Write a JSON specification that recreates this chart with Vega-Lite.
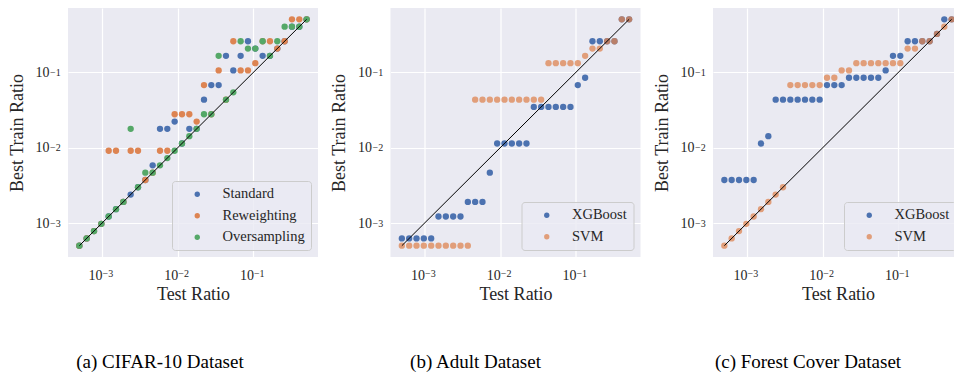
{
  "$schema": "https://vega.github.io/schema/vega-lite/v6.json",
  "background": "white",
  "padding": {"left": 8, "top": 8, "right": 0, "bottom": 0},
  "bounds": "flush",
  "spacing": 72.5,
  "config": {
    "font": "Liberation Serif",
    "view": {"fill": "#EAEAF2", "stroke": null},
    "axis": {
      "domain": false, "ticks": false, "tickSize": 0, "grid": true, "gridColor": "white", "gridWidth": 1.2,
      "labelFont": "Liberation Serif", "labelFontSize": 14, "labelColor": "#262626", "labelFlush": false,
      "titleFont": "Liberation Serif", "titleFontSize": 18, "titleFontWeight": "normal", "titleColor": "#262626"
    },
    "axisX": {"labelPadding": 11, "titlePadding": 3},
    "axisY": {"titlePadding": 9},
    "legend": {
      "orient": "bottom-right", "offset": 7, "title": null,
      "fillColor": "rgba(234,234,242,0.8)", "strokeColor": "#cccccc", "cornerRadius": 3,
      "padding": 6, "labelFont": "Liberation Serif", "labelFontSize": 14.5, "labelColor": "#262626",
      "symbolType": "circle", "symbolSize": 28, "symbolStrokeWidth": 0, "symbolOffset": 12,
      "labelOffset": 18, "rowPadding": 6.5
    },
    "title": {"orient": "bottom", "anchor": "middle", "frame": "group", "fontSize": 19, "fontWeight": "normal", "color": "black", "offset": 50}
  },
  "datasets": {
    "diag": [{"test": 0.0005, "train": 0.0005}, {"test": 0.504871, "train": 0.504871}],
    "cifar": [
      {"method": "Standard", "test": 0.0005, "train": 0.0005},
      {"method": "Standard", "test": 0.000625, "train": 0.000625},
      {"method": "Standard", "test": 0.00078125, "train": 0.00078125},
      {"method": "Standard", "test": 0.000976563, "train": 0.000976563},
      {"method": "Standard", "test": 0.0012207, "train": 0.0012207},
      {"method": "Standard", "test": 0.00152588, "train": 0.00152588},
      {"method": "Standard", "test": 0.00190735, "train": 0.00190735},
      {"method": "Standard", "test": 0.00238419, "train": 0.00238419},
      {"method": "Standard", "test": 0.00298023, "train": 0.00298023},
      {"method": "Standard", "test": 0.00372529, "train": 0.00372529},
      {"method": "Standard", "test": 0.00465661, "train": 0.00582077},
      {"method": "Standard", "test": 0.00582077, "train": 0.0177636},
      {"method": "Standard", "test": 0.00727596, "train": 0.0177636},
      {"method": "Standard", "test": 0.00909495, "train": 0.0222045},
      {"method": "Standard", "test": 0.0113687, "train": 0.0113687},
      {"method": "Standard", "test": 0.0142109, "train": 0.0177636},
      {"method": "Standard", "test": 0.0177636, "train": 0.0177636},
      {"method": "Standard", "test": 0.0222045, "train": 0.0433681},
      {"method": "Standard", "test": 0.0277556, "train": 0.0677626},
      {"method": "Standard", "test": 0.0346945, "train": 0.0677626},
      {"method": "Standard", "test": 0.0433681, "train": 0.165436},
      {"method": "Standard", "test": 0.0542101, "train": 0.105879},
      {"method": "Standard", "test": 0.0677626, "train": 0.165436},
      {"method": "Standard", "test": 0.0847033, "train": 0.258494},
      {"method": "Standard", "test": 0.105879, "train": 0.206795},
      {"method": "Standard", "test": 0.132349, "train": 0.165436},
      {"method": "Standard", "test": 0.165436, "train": 0.165436},
      {"method": "Standard", "test": 0.206795, "train": 0.206795},
      {"method": "Standard", "test": 0.258494, "train": 0.258494},
      {"method": "Standard", "test": 0.323117, "train": 0.403897},
      {"method": "Standard", "test": 0.403897, "train": 0.403897},
      {"method": "Standard", "test": 0.504871, "train": 0.504871},
      {"method": "Reweighting", "test": 0.0005, "train": 0.0005},
      {"method": "Reweighting", "test": 0.000625, "train": 0.000625},
      {"method": "Reweighting", "test": 0.00078125, "train": 0.00078125},
      {"method": "Reweighting", "test": 0.000976563, "train": 0.000976563},
      {"method": "Reweighting", "test": 0.0012207, "train": 0.00909495},
      {"method": "Reweighting", "test": 0.00152588, "train": 0.00909495},
      {"method": "Reweighting", "test": 0.00190735, "train": 0.00190735},
      {"method": "Reweighting", "test": 0.00238419, "train": 0.00909495},
      {"method": "Reweighting", "test": 0.00298023, "train": 0.00909495},
      {"method": "Reweighting", "test": 0.00372529, "train": 0.00372529},
      {"method": "Reweighting", "test": 0.00465661, "train": 0.00465661},
      {"method": "Reweighting", "test": 0.00582077, "train": 0.00909495},
      {"method": "Reweighting", "test": 0.00727596, "train": 0.00909495},
      {"method": "Reweighting", "test": 0.00909495, "train": 0.0277556},
      {"method": "Reweighting", "test": 0.0113687, "train": 0.0277556},
      {"method": "Reweighting", "test": 0.0142109, "train": 0.0277556},
      {"method": "Reweighting", "test": 0.0177636, "train": 0.0222045},
      {"method": "Reweighting", "test": 0.0222045, "train": 0.0677626},
      {"method": "Reweighting", "test": 0.0277556, "train": 0.0277556},
      {"method": "Reweighting", "test": 0.0346945, "train": 0.105879},
      {"method": "Reweighting", "test": 0.0433681, "train": 0.0433681},
      {"method": "Reweighting", "test": 0.0542101, "train": 0.258494},
      {"method": "Reweighting", "test": 0.0677626, "train": 0.105879},
      {"method": "Reweighting", "test": 0.0847033, "train": 0.105879},
      {"method": "Reweighting", "test": 0.105879, "train": 0.132349},
      {"method": "Reweighting", "test": 0.132349, "train": 0.258494},
      {"method": "Reweighting", "test": 0.165436, "train": 0.258494},
      {"method": "Reweighting", "test": 0.206795, "train": 0.206795},
      {"method": "Reweighting", "test": 0.258494, "train": 0.258494},
      {"method": "Reweighting", "test": 0.323117, "train": 0.504871},
      {"method": "Reweighting", "test": 0.403897, "train": 0.504871},
      {"method": "Reweighting", "test": 0.504871, "train": 0.504871},
      {"method": "Oversampling", "test": 0.0005, "train": 0.0005},
      {"method": "Oversampling", "test": 0.000625, "train": 0.000625},
      {"method": "Oversampling", "test": 0.00078125, "train": 0.00078125},
      {"method": "Oversampling", "test": 0.000976563, "train": 0.000976563},
      {"method": "Oversampling", "test": 0.0012207, "train": 0.0012207},
      {"method": "Oversampling", "test": 0.00152588, "train": 0.00152588},
      {"method": "Oversampling", "test": 0.00190735, "train": 0.00190735},
      {"method": "Oversampling", "test": 0.00238419, "train": 0.0177636},
      {"method": "Oversampling", "test": 0.00298023, "train": 0.00298023},
      {"method": "Oversampling", "test": 0.00372529, "train": 0.00465661},
      {"method": "Oversampling", "test": 0.00465661, "train": 0.00465661},
      {"method": "Oversampling", "test": 0.00582077, "train": 0.00582077},
      {"method": "Oversampling", "test": 0.00727596, "train": 0.00727596},
      {"method": "Oversampling", "test": 0.00909495, "train": 0.00909495},
      {"method": "Oversampling", "test": 0.0113687, "train": 0.0113687},
      {"method": "Oversampling", "test": 0.0142109, "train": 0.0142109},
      {"method": "Oversampling", "test": 0.0177636, "train": 0.0177636},
      {"method": "Oversampling", "test": 0.0222045, "train": 0.0277556},
      {"method": "Oversampling", "test": 0.0277556, "train": 0.0277556},
      {"method": "Oversampling", "test": 0.0346945, "train": 0.165436},
      {"method": "Oversampling", "test": 0.0433681, "train": 0.0433681},
      {"method": "Oversampling", "test": 0.0542101, "train": 0.0542101},
      {"method": "Oversampling", "test": 0.0677626, "train": 0.258494},
      {"method": "Oversampling", "test": 0.0847033, "train": 0.206795},
      {"method": "Oversampling", "test": 0.105879, "train": 0.206795},
      {"method": "Oversampling", "test": 0.132349, "train": 0.258494},
      {"method": "Oversampling", "test": 0.165436, "train": 0.165436},
      {"method": "Oversampling", "test": 0.206795, "train": 0.258494},
      {"method": "Oversampling", "test": 0.258494, "train": 0.403897},
      {"method": "Oversampling", "test": 0.323117, "train": 0.403897},
      {"method": "Oversampling", "test": 0.403897, "train": 0.403897},
      {"method": "Oversampling", "test": 0.504871, "train": 0.504871}
    ],
    "adult": [
      {"method": "XGBoost", "test": 0.0005, "train": 0.000625},
      {"method": "XGBoost", "test": 0.000625, "train": 0.000625},
      {"method": "XGBoost", "test": 0.00078125, "train": 0.000625},
      {"method": "XGBoost", "test": 0.000976563, "train": 0.000625},
      {"method": "XGBoost", "test": 0.0012207, "train": 0.000625},
      {"method": "XGBoost", "test": 0.00152588, "train": 0.0012207},
      {"method": "XGBoost", "test": 0.00190735, "train": 0.0012207},
      {"method": "XGBoost", "test": 0.00238419, "train": 0.0012207},
      {"method": "XGBoost", "test": 0.00298023, "train": 0.0012207},
      {"method": "XGBoost", "test": 0.00372529, "train": 0.00190735},
      {"method": "XGBoost", "test": 0.00465661, "train": 0.00190735},
      {"method": "XGBoost", "test": 0.00582077, "train": 0.00190735},
      {"method": "XGBoost", "test": 0.00727596, "train": 0.00465661},
      {"method": "XGBoost", "test": 0.00909495, "train": 0.0113687},
      {"method": "XGBoost", "test": 0.0113687, "train": 0.0113687},
      {"method": "XGBoost", "test": 0.0142109, "train": 0.0113687},
      {"method": "XGBoost", "test": 0.0177636, "train": 0.0113687},
      {"method": "XGBoost", "test": 0.0222045, "train": 0.0113687},
      {"method": "XGBoost", "test": 0.0277556, "train": 0.0346945},
      {"method": "XGBoost", "test": 0.0346945, "train": 0.0346945},
      {"method": "XGBoost", "test": 0.0433681, "train": 0.0346945},
      {"method": "XGBoost", "test": 0.0542101, "train": 0.0346945},
      {"method": "XGBoost", "test": 0.0677626, "train": 0.0346945},
      {"method": "XGBoost", "test": 0.0847033, "train": 0.0346945},
      {"method": "XGBoost", "test": 0.105879, "train": 0.0677626},
      {"method": "XGBoost", "test": 0.132349, "train": 0.0847033},
      {"method": "XGBoost", "test": 0.165436, "train": 0.258494},
      {"method": "XGBoost", "test": 0.206795, "train": 0.258494},
      {"method": "XGBoost", "test": 0.258494, "train": 0.258494},
      {"method": "XGBoost", "test": 0.323117, "train": 0.258494},
      {"method": "XGBoost", "test": 0.403897, "train": 0.504871},
      {"method": "XGBoost", "test": 0.504871, "train": 0.504871},
      {"method": "SVM", "test": 0.0005, "train": 0.0005},
      {"method": "SVM", "test": 0.000625, "train": 0.0005},
      {"method": "SVM", "test": 0.00078125, "train": 0.0005},
      {"method": "SVM", "test": 0.000976563, "train": 0.0005},
      {"method": "SVM", "test": 0.0012207, "train": 0.0005},
      {"method": "SVM", "test": 0.00152588, "train": 0.0005},
      {"method": "SVM", "test": 0.00190735, "train": 0.0005},
      {"method": "SVM", "test": 0.00238419, "train": 0.0005},
      {"method": "SVM", "test": 0.00298023, "train": 0.0005},
      {"method": "SVM", "test": 0.00372529, "train": 0.0005},
      {"method": "SVM", "test": 0.00465661, "train": 0.0433681},
      {"method": "SVM", "test": 0.00582077, "train": 0.0433681},
      {"method": "SVM", "test": 0.00727596, "train": 0.0433681},
      {"method": "SVM", "test": 0.00909495, "train": 0.0433681},
      {"method": "SVM", "test": 0.0113687, "train": 0.0433681},
      {"method": "SVM", "test": 0.0142109, "train": 0.0433681},
      {"method": "SVM", "test": 0.0177636, "train": 0.0433681},
      {"method": "SVM", "test": 0.0222045, "train": 0.0433681},
      {"method": "SVM", "test": 0.0277556, "train": 0.0433681},
      {"method": "SVM", "test": 0.0346945, "train": 0.0433681},
      {"method": "SVM", "test": 0.0433681, "train": 0.132349},
      {"method": "SVM", "test": 0.0542101, "train": 0.132349},
      {"method": "SVM", "test": 0.0677626, "train": 0.132349},
      {"method": "SVM", "test": 0.0847033, "train": 0.132349},
      {"method": "SVM", "test": 0.105879, "train": 0.132349},
      {"method": "SVM", "test": 0.132349, "train": 0.165436},
      {"method": "SVM", "test": 0.165436, "train": 0.206795},
      {"method": "SVM", "test": 0.206795, "train": 0.206795},
      {"method": "SVM", "test": 0.258494, "train": 0.258494},
      {"method": "SVM", "test": 0.323117, "train": 0.258494},
      {"method": "SVM", "test": 0.403897, "train": 0.504871},
      {"method": "SVM", "test": 0.504871, "train": 0.504871}
    ],
    "forest": [
      {"method": "XGBoost", "test": 0.0005, "train": 0.00372529},
      {"method": "XGBoost", "test": 0.000625, "train": 0.00372529},
      {"method": "XGBoost", "test": 0.00078125, "train": 0.00372529},
      {"method": "XGBoost", "test": 0.000976563, "train": 0.00372529},
      {"method": "XGBoost", "test": 0.0012207, "train": 0.00372529},
      {"method": "XGBoost", "test": 0.00152588, "train": 0.0113687},
      {"method": "XGBoost", "test": 0.00190735, "train": 0.0142109},
      {"method": "XGBoost", "test": 0.00238419, "train": 0.0433681},
      {"method": "XGBoost", "test": 0.00298023, "train": 0.0433681},
      {"method": "XGBoost", "test": 0.00372529, "train": 0.0433681},
      {"method": "XGBoost", "test": 0.00465661, "train": 0.0433681},
      {"method": "XGBoost", "test": 0.00582077, "train": 0.0433681},
      {"method": "XGBoost", "test": 0.00727596, "train": 0.0433681},
      {"method": "XGBoost", "test": 0.00909495, "train": 0.0433681},
      {"method": "XGBoost", "test": 0.0113687, "train": 0.0677626},
      {"method": "XGBoost", "test": 0.0142109, "train": 0.0677626},
      {"method": "XGBoost", "test": 0.0177636, "train": 0.0677626},
      {"method": "XGBoost", "test": 0.0222045, "train": 0.0847033},
      {"method": "XGBoost", "test": 0.0277556, "train": 0.0847033},
      {"method": "XGBoost", "test": 0.0346945, "train": 0.0847033},
      {"method": "XGBoost", "test": 0.0433681, "train": 0.0847033},
      {"method": "XGBoost", "test": 0.0542101, "train": 0.0847033},
      {"method": "XGBoost", "test": 0.0677626, "train": 0.105879},
      {"method": "XGBoost", "test": 0.0847033, "train": 0.165436},
      {"method": "XGBoost", "test": 0.105879, "train": 0.165436},
      {"method": "XGBoost", "test": 0.132349, "train": 0.258494},
      {"method": "XGBoost", "test": 0.165436, "train": 0.258494},
      {"method": "XGBoost", "test": 0.206795, "train": 0.258494},
      {"method": "XGBoost", "test": 0.258494, "train": 0.258494},
      {"method": "XGBoost", "test": 0.323117, "train": 0.323117},
      {"method": "XGBoost", "test": 0.403897, "train": 0.504871},
      {"method": "XGBoost", "test": 0.504871, "train": 0.504871},
      {"method": "SVM", "test": 0.0005, "train": 0.0005},
      {"method": "SVM", "test": 0.000625, "train": 0.000625},
      {"method": "SVM", "test": 0.00078125, "train": 0.00078125},
      {"method": "SVM", "test": 0.000976563, "train": 0.000976563},
      {"method": "SVM", "test": 0.0012207, "train": 0.0012207},
      {"method": "SVM", "test": 0.00152588, "train": 0.00152588},
      {"method": "SVM", "test": 0.00190735, "train": 0.00190735},
      {"method": "SVM", "test": 0.00238419, "train": 0.00238419},
      {"method": "SVM", "test": 0.00298023, "train": 0.00298023},
      {"method": "SVM", "test": 0.00372529, "train": 0.0677626},
      {"method": "SVM", "test": 0.00465661, "train": 0.0677626},
      {"method": "SVM", "test": 0.00582077, "train": 0.0677626},
      {"method": "SVM", "test": 0.00727596, "train": 0.0677626},
      {"method": "SVM", "test": 0.00909495, "train": 0.0677626},
      {"method": "SVM", "test": 0.0113687, "train": 0.0847033},
      {"method": "SVM", "test": 0.0142109, "train": 0.0847033},
      {"method": "SVM", "test": 0.0177636, "train": 0.105879},
      {"method": "SVM", "test": 0.0222045, "train": 0.105879},
      {"method": "SVM", "test": 0.0277556, "train": 0.132349},
      {"method": "SVM", "test": 0.0346945, "train": 0.132349},
      {"method": "SVM", "test": 0.0433681, "train": 0.132349},
      {"method": "SVM", "test": 0.0542101, "train": 0.132349},
      {"method": "SVM", "test": 0.0677626, "train": 0.132349},
      {"method": "SVM", "test": 0.0847033, "train": 0.132349},
      {"method": "SVM", "test": 0.105879, "train": 0.132349},
      {"method": "SVM", "test": 0.132349, "train": 0.206795},
      {"method": "SVM", "test": 0.165436, "train": 0.206795},
      {"method": "SVM", "test": 0.206795, "train": 0.258494},
      {"method": "SVM", "test": 0.258494, "train": 0.258494},
      {"method": "SVM", "test": 0.323117, "train": 0.323117},
      {"method": "SVM", "test": 0.403897, "train": 0.403897},
      {"method": "SVM", "test": 0.504871, "train": 0.504871}
    ]
  },
  "hconcat": [
    {
      "width": 250, "height": 249,
      "title": {"text": "(a) CIFAR-10 Dataset", "dx": -33},
      "resolve": {"axis": {"x": "independent", "y": "independent"}},
      "layer": [
        {
          "data": {"name": "cifar"},
          "mark": {"type": "point", "filled": true, "size": 40, "opacity": 1},
          "encoding": {
            "x": {"field": "test", "type": "quantitative", "title": "Test Ratio",
                  "scale": {"type": "log", "domain": [0.000354, 0.7137], "nice": false},
                  "axis": {"orient": "bottom", "values": [0.001, 0.01, 0.1], "labelExpr": "'10'", "labelAlign": "right", "labelDx": 1.5}},
            "y": {"field": "train", "type": "quantitative", "title": "Best Train Ratio",
                  "scale": {"type": "log", "domain": [0.000354, 0.7137], "nice": false},
                  "axis": {"orient": "left", "values": [0.001, 0.01, 0.1], "labelExpr": "'10'", "labelAlign": "right", "labelPadding": 19, "labelDy": 0.5}},
            "color": {"field": "method", "type": "nominal",
                      "scale": {"domain": ["Standard", "Reweighting", "Oversampling"], "range": ["#4C72B0", "#DD8452", "#55A868"]}}
          }
        },
        {
          "data": {"name": "diag"},
          "mark": {"type": "line", "color": "black", "strokeWidth": 1},
          "encoding": {
            "x": {"field": "test", "type": "quantitative",
                  "axis": {"orient": "bottom", "values": [0.001, 0.01, 0.1], "grid": false, "title": null, "labelFontSize": 10, "labelAlign": "left", "labelDx": 1.5, "labelDy": -2.8,
                           "labelExpr": "datum.value < 0.005 ? '−3' : datum.value < 0.05 ? '−2' : '−1'"}},
            "y": {"field": "train", "type": "quantitative",
                  "axis": {"orient": "left", "values": [0.001, 0.01, 0.1], "grid": false, "title": null, "labelFontSize": 10, "labelAlign": "left", "labelPadding": 18.5, "labelDy": -4.5,
                           "labelExpr": "datum.value < 0.005 ? '−3' : datum.value < 0.05 ? '−2' : '−1'"}}
          }
        }
      ]
    },
    {
      "width": 250, "height": 249,
      "title": {"text": "(b) Adult Dataset", "dx": -40},
      "resolve": {"axis": {"x": "independent", "y": "independent"}},
      "layer": [
        {
          "data": {"name": "adult"},
          "mark": {"type": "point", "filled": true, "size": 40},
          "encoding": {
            "x": {"field": "test", "type": "quantitative", "title": "Test Ratio",
                  "scale": {"type": "log", "domain": [0.000354, 0.7137], "nice": false},
                  "axis": {"orient": "bottom", "values": [0.001, 0.01, 0.1], "labelExpr": "'10'", "labelAlign": "right", "labelDx": 1.5}},
            "y": {"field": "train", "type": "quantitative", "title": "Best Train Ratio",
                  "scale": {"type": "log", "domain": [0.000354, 0.7137], "nice": false},
                  "axis": {"orient": "left", "values": [0.001, 0.01, 0.1], "labelExpr": "'10'", "labelAlign": "right", "labelPadding": 19, "labelDy": 0.5}},
            "color": {"field": "method", "type": "nominal",
                      "scale": {"domain": ["XGBoost", "SVM"], "range": ["#4C72B0", "#DD8452"]}},
            "opacity": {"field": "method", "type": "nominal",
                        "scale": {"domain": ["XGBoost", "SVM"], "range": [1, 0.75]}}
          }
        },
        {
          "data": {"name": "diag"},
          "mark": {"type": "line", "color": "black", "strokeWidth": 1},
          "encoding": {
            "x": {"field": "test", "type": "quantitative",
                  "axis": {"orient": "bottom", "values": [0.001, 0.01, 0.1], "grid": false, "title": null, "labelFontSize": 10, "labelAlign": "left", "labelDx": 1.5, "labelDy": -2.8,
                           "labelExpr": "datum.value < 0.005 ? '−3' : datum.value < 0.05 ? '−2' : '−1'"}},
            "y": {"field": "train", "type": "quantitative",
                  "axis": {"orient": "left", "values": [0.001, 0.01, 0.1], "grid": false, "title": null, "labelFontSize": 10, "labelAlign": "left", "labelPadding": 18.5, "labelDy": -4.5,
                           "labelExpr": "datum.value < 0.005 ? '−3' : datum.value < 0.05 ? '−2' : '−1'"}}
          }
        }
      ]
    },
    {
      "width": 250, "height": 249,
      "title": {"text": "(c) Forest Cover Dataset", "dx": -30},
      "resolve": {"axis": {"x": "independent", "y": "independent"}},
      "layer": [
        {
          "data": {"name": "forest"},
          "mark": {"type": "point", "filled": true, "size": 40},
          "encoding": {
            "x": {"field": "test", "type": "quantitative", "title": "Test Ratio",
                  "scale": {"type": "log", "domain": [0.000354, 0.7137], "nice": false},
                  "axis": {"orient": "bottom", "values": [0.001, 0.01, 0.1], "labelExpr": "'10'", "labelAlign": "right", "labelDx": 1.5}},
            "y": {"field": "train", "type": "quantitative", "title": "Best Train Ratio",
                  "scale": {"type": "log", "domain": [0.000354, 0.7137], "nice": false},
                  "axis": {"orient": "left", "values": [0.001, 0.01, 0.1], "labelExpr": "'10'", "labelAlign": "right", "labelPadding": 19, "labelDy": 0.5}},
            "color": {"field": "method", "type": "nominal",
                      "scale": {"domain": ["XGBoost", "SVM"], "range": ["#4C72B0", "#DD8452"]}},
            "opacity": {"field": "method", "type": "nominal",
                        "scale": {"domain": ["XGBoost", "SVM"], "range": [1, 0.75]}}
          }
        },
        {
          "data": {"name": "diag"},
          "mark": {"type": "line", "color": "black", "strokeWidth": 1},
          "encoding": {
            "x": {"field": "test", "type": "quantitative",
                  "axis": {"orient": "bottom", "values": [0.001, 0.01, 0.1], "grid": false, "title": null, "labelFontSize": 10, "labelAlign": "left", "labelDx": 1.5, "labelDy": -2.8,
                           "labelExpr": "datum.value < 0.005 ? '−3' : datum.value < 0.05 ? '−2' : '−1'"}},
            "y": {"field": "train", "type": "quantitative",
                  "axis": {"orient": "left", "values": [0.001, 0.01, 0.1], "grid": false, "title": null, "labelFontSize": 10, "labelAlign": "left", "labelPadding": 18.5, "labelDy": -4.5,
                           "labelExpr": "datum.value < 0.005 ? '−3' : datum.value < 0.05 ? '−2' : '−1'"}}
          }
        }
      ]
    }
  ],
  "resolve": {"scale": {"color": "independent", "opacity": "independent"}, "legend": {"color": "independent", "opacity": "independent"}}
}
